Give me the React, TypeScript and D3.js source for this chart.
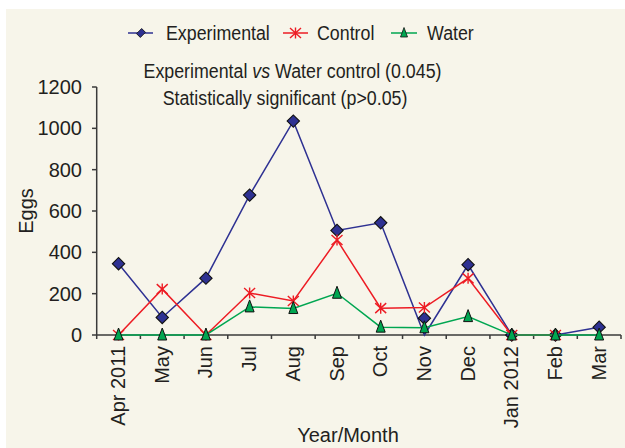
import React from "react";
import * as d3 from "d3";

const months = ["Apr 2011", "May", "Jun", "Jul", "Aug", "Sep", "Oct", "Nov", "Dec", "Jan 2012", "Feb", "Mar"];
const experimental = [345, 85, 275, 677, 1035, 506, 543, 81, 340, 0, 0, 38];
const experimentalLine = [345, 85, 275, 677, 1035, 506, 543, 0, 340, 0, 0, 38];
const control: (number | null)[] = [0, 222, 0, 203, 165, 460, 130, 133, 274, 0, 0, null];
const water = [0, 0, 0, 136, 128, 202, 38, 35, 89, 0, 0, 0];
const yTicks = [0, 200, 400, 600, 800, 1000, 1200];
const titleLine2 = "Statistically significant (p>0.05)";

const W = 625;
const H = 448;
const FONT = "'Liberation Sans', Arial, Helvetica, sans-serif";
const TEXT = "#231f20";
const BLUE = "#2e3192";
const RED = "#ed1c24";
const GREEN = "#00a651";

const x = d3.scaleBand<string>().domain(months).range([96.7, 621]).padding(0);
const y = d3.scaleLinear().domain([0, 1200]).range([335, 87]);
const cx = (m: string) => (x(m) as number) + x.bandwidth() / 2;

const diamond = d3.symbol().type(d3.symbolSquare).size(76)() as string;
const triangle = "M0,-7L4.5,5L-4.5,5Z";
const star = "M-5.5,-5L5.5,5M-5.5,5L5.5,-5M0,-5.5L0,5.5";

const lineGen = d3
  .line<number | null>()
  .defined((d) => d !== null)
  .x((_, i) => cx(months[i]))
  .y((d) => y(d as number));

function Diamond({ tx, ty }: { tx: number; ty: number }) {
  return (
    <path d={diamond} transform={`translate(${tx},${ty}) rotate(45)`} fill={BLUE} stroke="#111" strokeWidth={1.1} />
  );
}
function Tri({ tx, ty }: { tx: number; ty: number }) {
  return <path d={triangle} transform={`translate(${tx},${ty})`} fill={GREEN} stroke="#111" strokeWidth={1} />;
}
function Star({ tx, ty }: { tx: number; ty: number }) {
  return <path d={star} transform={`translate(${tx},${ty})`} fill="none" stroke={RED} strokeWidth={1.4} />;
}

export default function App() {
  const axisColor = "#3a3a3a";
  return (
    <svg
      width={W}
      height={H}
      viewBox={`0 0 ${W} ${H}`}
      style={{ position: "absolute", left: 0, top: 0, display: "block" }}
      fontFamily={FONT}
    >
      <rect x={0} y={0} width={W} height={H} fill="#ffffff" />
      <rect x={6} y={9} width={W - 6} height={H - 9} fill="#f7f5ea" />

      {/* Legend */}
      <g>
        <line x1={128} x2={153} y1={33} y2={33} stroke={BLUE} strokeWidth={1.5} />
        <path d={d3.symbol().type(d3.symbolSquare).size(40)() as string} transform="translate(141,33) rotate(45) scale(0.85,1.15)" fill={BLUE} stroke="#111" strokeWidth={0.8} />
        <text transform="translate(166,39.5) scale(0.89,1)" fontSize={20} fill={TEXT}>Experimental</text>
        <line x1={283} x2={308} y1={33} y2={33} stroke={RED} strokeWidth={1.5} />
        <Star tx={295.5} ty={33} />
        <text transform="translate(317,39.5) scale(0.89,1)" fontSize={20} fill={TEXT}>Control</text>
        <line x1={391} x2={417} y1={33} y2={33} stroke={GREEN} strokeWidth={1.5} />
        <path d="M0,-5.5L3.5,4L-3.5,4Z" transform="translate(404,33)" fill={GREEN} stroke="#111" strokeWidth={0.8} />
        <text transform="translate(427,39.5) scale(0.89,1)" fontSize={20} fill={TEXT}>Water</text>
      </g>

      {/* Title annotation */}
      <text transform="translate(292.5,77.5) scale(0.89,1)" fontSize={20} fill={TEXT} textAnchor="middle">
        Experimental <tspan fontStyle="italic">vs</tspan> Water control (0.045)
      </text>
      <text transform="translate(285,104.5) scale(0.89,1)" fontSize={20} fill={TEXT} textAnchor="middle">
        {titleLine2}
      </text>

      {/* Y axis */}
      <line x1={96.7} x2={96.7} y1={y(1200)} y2={y(0)} stroke={axisColor} strokeWidth={1.5} />
      {yTicks.map((t) => (
        <g key={t}>
          <line x1={92} x2={96.7} y1={y(t)} y2={y(t)} stroke={axisColor} strokeWidth={1.5} />
          <text x={82} y={y(t) + 7} fontSize={20} textAnchor="end" fill={TEXT}>
            {t}
          </text>
        </g>
      ))}
      <text transform={`translate(33.3,${(y(0) + y(1200)) / 2}) rotate(-90)`} fontSize={20} textAnchor="middle" fill={TEXT}>
        Eggs
      </text>

      {/* X axis */}
      <line x1={96.7} x2={621} y1={y(0)} y2={y(0)} stroke={axisColor} strokeWidth={1.5} />
      {months.map((m) => (
        <line key={"t" + m} x1={x(m) as number} x2={x(m) as number} y1={y(0)} y2={y(0) + 4} stroke={axisColor} strokeWidth={1.5} />
      ))}
      <line x1={621} x2={621} y1={y(0)} y2={y(0) + 4} stroke={axisColor} strokeWidth={1.5} />
      {months.map((m) => (
        <text key={"l" + m} transform={`translate(${cx(m) + 6.5},346) rotate(-90)`} fontSize={20} textAnchor="end" fill={TEXT}>
          {m}
        </text>
      ))}
      <text x={348} y={441.5} fontSize={20} textAnchor="middle" fill={TEXT}>
        Year/Month
      </text>

      {/* Experimental */}
      <path d={lineGen(experimentalLine) as string} fill="none" stroke={BLUE} strokeWidth={1.5} />
      {experimental.map((v, i) => (
        <Diamond key={"e" + i} tx={cx(months[i])} ty={y(v)} />
      ))}

      {/* Control */}
      <path d={lineGen(control) as string} fill="none" stroke={RED} strokeWidth={1.5} />
      {control.map((v, i) => (v === null ? null : <Star key={"c" + i} tx={cx(months[i])} ty={y(v)} />))}

      {/* Water */}
      <path d={lineGen(water) as string} fill="none" stroke={GREEN} strokeWidth={1.5} />
      {water.map((v, i) => (
        <Tri key={"w" + i} tx={cx(months[i])} ty={y(v)} />
      ))}
    </svg>
  );
}
